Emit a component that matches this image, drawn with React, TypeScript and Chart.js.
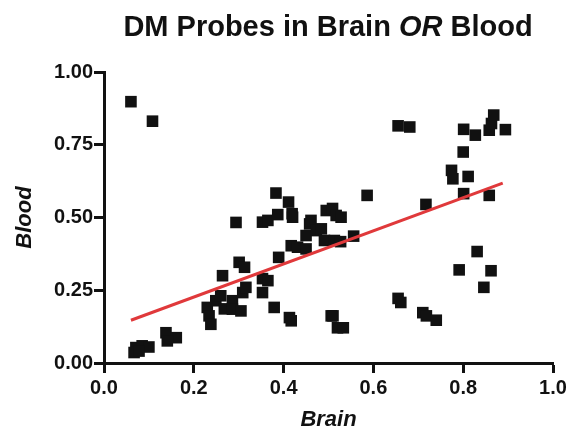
import React, { useEffect, useRef } from "react";
import { Chart, registerables } from "chart.js";

Chart.register(...registerables);

const brainValues = [
  0.060, 0.108, 0.071, 0.085, 0.100, 0.067, 0.078, 0.138, 0.161, 0.141,
  0.230, 0.234, 0.238, 0.249, 0.260, 0.264, 0.268, 0.286, 0.286, 0.305,
  0.294, 0.301, 0.313, 0.309, 0.316, 0.353, 0.365, 0.353, 0.353, 0.365,
  0.379, 0.383, 0.387, 0.411, 0.419, 0.420, 0.389, 0.413, 0.417, 0.417,
  0.431, 0.450, 0.450, 0.458, 0.461, 0.473, 0.484, 0.491, 0.495, 0.506,
  0.509, 0.517, 0.528, 0.513, 0.527, 0.556, 0.586, 0.510, 0.520, 0.533,
  0.655, 0.681, 0.655, 0.661, 0.717, 0.710, 0.718, 0.740, 0.801, 0.827,
  0.858, 0.863, 0.868, 0.894, 0.800, 0.774, 0.777, 0.811, 0.801, 0.858,
  0.831, 0.791, 0.862, 0.846,
];

const bloodValues = [
  0.898, 0.831, 0.053, 0.059, 0.055, 0.036, 0.041, 0.104, 0.087, 0.076,
  0.191, 0.162, 0.133, 0.214, 0.231, 0.300, 0.186, 0.214, 0.185, 0.179,
  0.483, 0.346, 0.329, 0.242, 0.260, 0.290, 0.283, 0.242, 0.484, 0.490,
  0.191, 0.584, 0.510, 0.553, 0.513, 0.501, 0.363, 0.156, 0.145, 0.403,
  0.398, 0.392, 0.438, 0.478, 0.490, 0.455, 0.461, 0.421, 0.524, 0.162,
  0.531, 0.507, 0.501, 0.421, 0.417, 0.436, 0.576, 0.162, 0.121, 0.121,
  0.815, 0.811, 0.222, 0.208, 0.545, 0.173, 0.162, 0.147, 0.803, 0.783,
  0.800, 0.823, 0.852, 0.802, 0.725, 0.662, 0.633, 0.641, 0.582, 0.576,
  0.383, 0.320, 0.317, 0.260,
];

const fitLineX = [0.06, 0.888];
const fitLineY = [0.147, 0.618];

const xTicks = [0, 0.2, 0.4, 0.6, 0.8, 1.0];
const yTicks = [0, 0.25, 0.5, 0.75, 1.0];

const FONT = '"Liberation Sans", Arial, Helvetica, sans-serif';
const INK = "#111111";

export default function App() {
  const canvasRef = useRef<HTMLCanvasElement | null>(null);

  useEffect(() => {
    const canvas = canvasRef.current;
    if (!canvas) return;
    const points = brainValues.map((x, i) => ({ x, y: bloodValues[i] }));
    const line = fitLineX.map((x, i) => ({ x, y: fitLineY[i] }));

    const chart = new Chart(canvas, {
      type: "scatter",
      data: {
        datasets: [
          {
            type: "line",
            data: line,
            borderColor: "#e0393b",
            borderWidth: 3,
            pointRadius: 0,
            showLine: true,
            fill: false,
            order: 0,
          } as any,
          {
            data: points,
            backgroundColor: INK,
            borderColor: INK,
            borderWidth: 0,
            pointStyle: "rect",
            pointRadius: 8.2,
            order: 1,
          },
        ],
      },
      options: {
        responsive: false,
        animation: false,
        events: [],
        layout: { padding: { top: 72, right: 18, left: 0, bottom: 0 } },
        plugins: {
          legend: { display: false },
          tooltip: { enabled: false },
          title: { display: false },
        },
        scales: {
          x: {
            type: "linear",
            min: 0,
            max: 1,
            afterFit: (scale: any) => {
              scale.height = 64;
            },
            afterBuildTicks: (scale: any) => {
              scale.ticks = xTicks.map((v) => ({ value: v }));
            },
            ticks: {
              padding: 3,
              color: INK,
              font: { family: FONT, size: 20, weight: "bold" },
              callback: (v: any) => Number(v).toFixed(1),
              maxRotation: 0,
            },
            grid: {
              display: true,
              drawOnChartArea: false,
              drawTicks: true,
              tickLength: 10,
              tickWidth: 3,
              tickColor: INK,
            },
            border: { display: true, width: 3, color: INK },
            title: {
              display: true,
              text: "Brain",
              color: INK,
              padding: { top: 0, bottom: 0 },
              font: { family: FONT, size: 22, weight: "bold", style: "italic", lineHeight: 0.6 },
            },
          },
          y: {
            type: "linear",
            min: 0,
            max: 1,
            afterFit: (scale: any) => {
              scale.width = 104;
            },
            afterBuildTicks: (scale: any) => {
              scale.ticks = yTicks.map((v) => ({ value: v }));
            },
            ticks: {
              padding: 1,
              color: INK,
              font: { family: FONT, size: 20, weight: "bold" },
              callback: (v: any) => Number(v).toFixed(2),
            },
            grid: {
              display: true,
              drawOnChartArea: false,
              drawTicks: true,
              tickLength: 10,
              tickWidth: 3,
              tickColor: INK,
            },
            border: { display: true, width: 3, color: INK },
            title: {
              display: true,
              text: "Blood",
              color: INK,
              padding: { top: 12, bottom: 0 },
              font: { family: FONT, size: 22, weight: "bold", style: "italic", lineHeight: 1.2 },
            },
          },
        },
      },
    });
    return () => chart.destroy();
  }, []);

  return (
    <div
      style={{
        position: "absolute",
        left: 0,
        top: 0,
        width: 571,
        height: 427,
        background: "#ffffff",
      }}
    >
      <canvas
        ref={canvasRef}
        width={571}
        height={427}
        style={{ position: "absolute", left: 0, top: 0, width: 571, height: 427 }}
      />
      <div
        style={{
          position: "absolute",
          left: 0,
          width: 656,
          top: 12,
          textAlign: "center",
          fontFamily: FONT,
          fontWeight: "bold",
          fontSize: 29,
          lineHeight: "29px",
          color: INK,
          whiteSpace: "nowrap",
        }}
      >
        DM Probes in Brain <span style={{ fontStyle: "italic" }}>OR</span> Blood
      </div>
    </div>
  );
}
